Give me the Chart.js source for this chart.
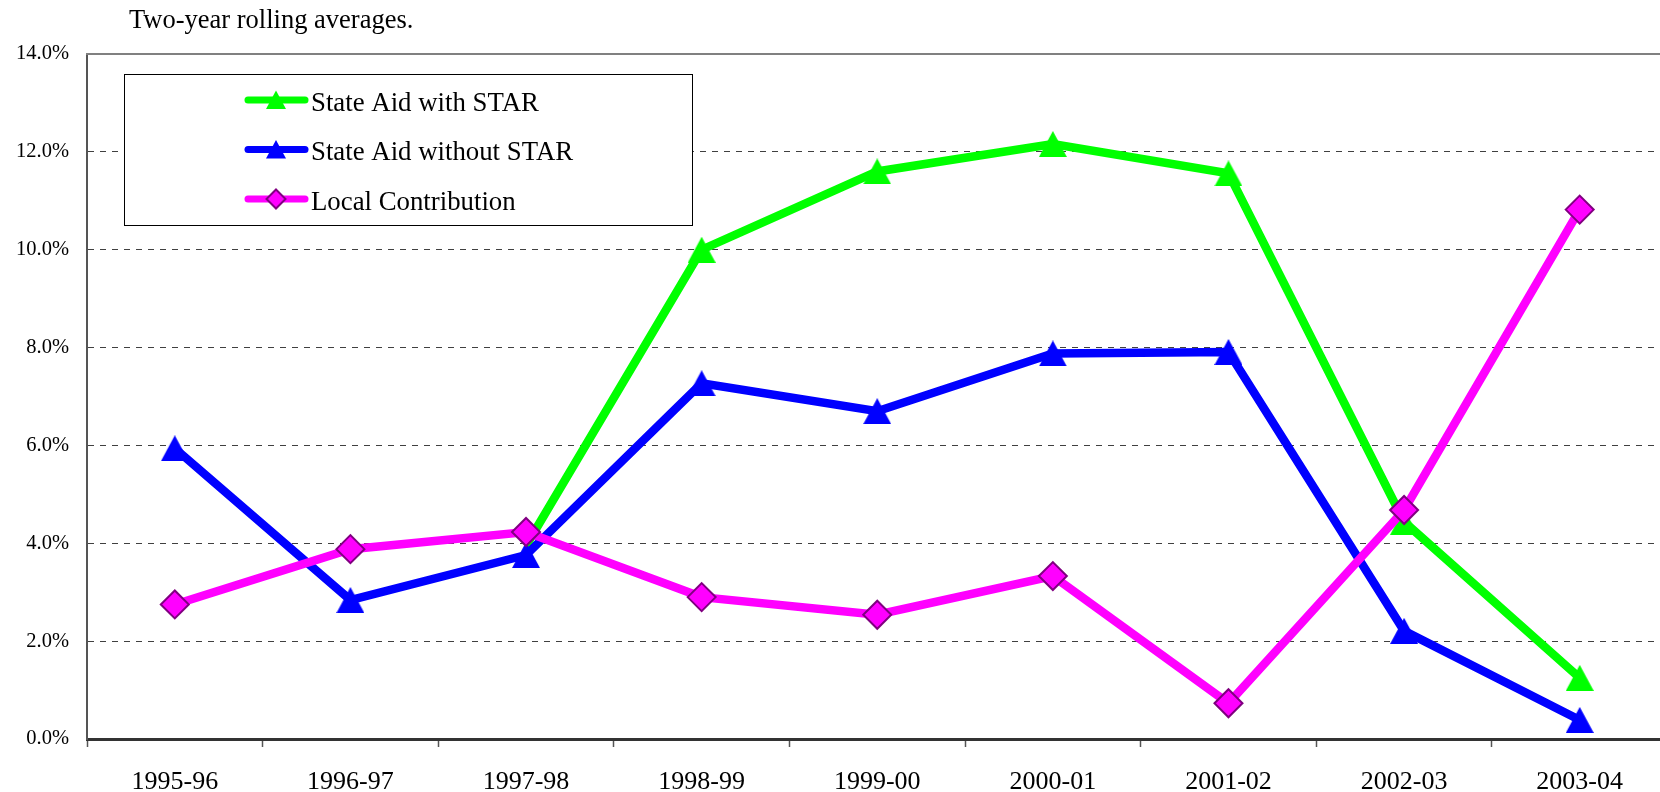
<!DOCTYPE html>
<html>
<head>
<meta charset="utf-8">
<script src="https://cdn.jsdelivr.net/npm/chart.js@4.4.0/dist/chart.umd.min.js"></script>
<style>
  html, body { margin: 0; padding: 0; background: #fff; overflow: hidden; }
  #wrap { width: 1660px; height: 792px; overflow: hidden; position: relative; }
  canvas { display: block; }
</style>
</head>
<body>
<div id="wrap"><canvas id="c" width="1690" height="792" style="width:1690px;height:792px"></canvas></div>
<script>
// ---- data ----
const categories = ["1995-96","1996-97","1997-98","1998-99","1999-00","2000-01","2001-02","2002-03","2003-04"];
const stateAidWithStar    = [null, null, 3.95, 10.0, 11.60, 12.16, 11.56, 4.44, 1.25];
const stateAidWithoutStar = [5.94, 2.84, 3.76, 7.27, 6.70, 7.88, 7.91, 2.21, 0.39];
const localContribution   = [2.75, 3.88, 4.23, 2.90, 2.54, 3.33, 0.73, 4.68, 10.82];
const seriesNames = ["State Aid with STAR", "State Aid without STAR", "Local Contribution"];
const yTickValues = [0, 2, 4, 6, 8, 10, 12, 14];
const yTickLabels = ["0.0%","2.0%","4.0%","6.0%","8.0%","10.0%","12.0%","14.0%"];
const titleText = "Two-year rolling averages.";

const SERIF = "'Liberation Serif', 'Times New Roman', serif";

function triangleImage(color, w, h) {
  const c = document.createElement('canvas');
  c.width = w; c.height = h;
  const g = c.getContext('2d');
  g.fillStyle = color;
  g.beginPath();
  g.moveTo(w / 2, 0);
  g.lineTo(w, h);
  g.lineTo(0, h);
  g.closePath();
  g.fill();
  return c;
}
const greenTri = triangleImage('#00FF00', 28, 26);
const blueTri = triangleImage('#0000FF', 28, 26);

const overlayPlugin = {
  id: 'overlay',
  beforeDraw(chart) {
    const ctx = chart.ctx;
    ctx.save();
    ctx.fillStyle = '#fff';
    ctx.fillRect(0, 0, chart.width, chart.height);
    ctx.restore();
  },
  afterDraw(chart) {
    const ctx = chart.ctx;
    const a = chart.chartArea;
    ctx.save();
    ctx.strokeStyle = '#808080';
    ctx.lineWidth = 2;
    ctx.beginPath();
    ctx.moveTo(a.left - 1, a.top);
    ctx.lineTo(a.right, a.top);
    ctx.stroke();

    ctx.fillStyle = '#000';
    ctx.font = "26.5px " + SERIF;
    ctx.textBaseline = 'alphabetic';
    ctx.textAlign = 'left';
    ctx.fillText(titleText, 129, 28);

    const bx = 124.5, by = 74.5, bw = 568, bh = 151;
    ctx.fillStyle = '#fff';
    ctx.fillRect(bx, by, bw, bh);
    ctx.strokeStyle = '#000';
    ctx.lineWidth = 1;
    ctx.strokeRect(bx, by, bw, bh);

    const rows = [100, 149.5, 199];
    const ds = chart.data.datasets;
    for (let i = 0; i < ds.length; i++) {
      const y = rows[i];
      ctx.strokeStyle = ds[i].borderColor;
      ctx.lineWidth = 7;
      ctx.lineCap = 'round';
      ctx.beginPath();
      ctx.moveTo(248, y);
      ctx.lineTo(305, y);
      ctx.stroke();
      const mx = 276;
      if (i < 2) {
        ctx.fillStyle = ds[i].borderColor;
        ctx.beginPath();
        ctx.moveTo(mx, y - 9.5);
        ctx.lineTo(mx + 10, y + 9);
        ctx.lineTo(mx - 10, y + 9);
        ctx.closePath();
        ctx.fill();
      } else {
        ctx.fillStyle = '#FF00FF';
        ctx.strokeStyle = '#800080';
        ctx.lineWidth = 2;
        ctx.beginPath();
        ctx.moveTo(mx, y - 9.5);
        ctx.lineTo(mx + 9.5, y);
        ctx.lineTo(mx, y + 9.5);
        ctx.lineTo(mx - 9.5, y);
        ctx.closePath();
        ctx.fill();
        ctx.stroke();
      }
      ctx.fillStyle = '#000';
      ctx.font = "26.8px " + SERIF;
      ctx.textAlign = 'left';
      ctx.textBaseline = 'alphabetic';
      ctx.fillText(seriesNames[i], 311, y + 10.5);
    }
    ctx.restore();
  }
};

new Chart(document.getElementById('c'), {
  type: 'line',
  data: {
    labels: categories,
    datasets: [
      {
        label: seriesNames[0],
        data: stateAidWithStar,
        borderColor: '#00FF00',
        backgroundColor: '#00FF00',
        borderWidth: 8.5,
        pointStyle: greenTri,
        pointRadius: (c) => (c.dataIndex === 2 ? 0 : 14),
        order: 2,
        tension: 0
      },
      {
        label: seriesNames[1],
        data: stateAidWithoutStar,
        borderColor: '#0000FF',
        backgroundColor: '#0000FF',
        borderWidth: 8.5,
        pointStyle: blueTri,
        pointRadius: 14,
        order: 1,
        tension: 0
      },
      {
        label: seriesNames[2],
        data: localContribution,
        borderColor: '#FF00FF',
        backgroundColor: '#FF00FF',
        borderWidth: 8.5,
        pointStyle: 'rectRot',
        pointRadius: 14,
        pointBackgroundColor: '#FF00FF',
        pointBorderColor: '#800080',
        pointBorderWidth: 2,
        order: 0,
        tension: 0
      }
    ]
  },
  options: {
    responsive: false,
    animation: false,
    devicePixelRatio: 1,
    layout: { padding: { top: 54, left: 0, right: 0, bottom: 0 } },
    plugins: {
      legend: { display: false },
      title: { display: false },
      tooltip: { enabled: false }
    },
    elements: { line: { borderJoinStyle: 'miter', borderCapStyle: 'butt' } },
    scales: {
      x: {
        type: 'category',
        offset: true,
        grid: {
          display: true,
          offset: true,
          drawOnChartArea: false,
          drawTicks: true,
          tickLength: 8,
          tickColor: '#555',
          tickWidth: 1.5
        },
        border: { display: true, color: '#333', width: 3 },
        ticks: {
          color: '#000',
          font: { family: SERIF, size: 26 },
          padding: 20,
          maxRotation: 0,
          autoSkip: false
        },
        afterFit(scale) { scale.height = 53; }
      },
      y: {
        type: 'linear',
        min: 0,
        max: 14,
        afterBuildTicks(scale) { scale.ticks = yTickValues.map(v => ({ value: v })); },
        ticks: {
          color: '#000',
          font: { family: SERIF, size: 20.5 },
          padding: 18,
          callback: (v) => yTickLabels[yTickValues.indexOf(v)]
        },
        grid: {
          drawTicks: false,
          lineWidth: 1,
          color: (ctx) => (ctx.tick && (ctx.tick.value === 0 || ctx.tick.value === 14)) ? 'rgba(0,0,0,0)' : '#404040'
        },
        border: { display: true, color: '#555', width: 2, dash: [6, 6] },
        afterFit(scale) { scale.width = 87; }
      }
    }
  },
  plugins: [overlayPlugin]
});
</script>
</body>
</html>
